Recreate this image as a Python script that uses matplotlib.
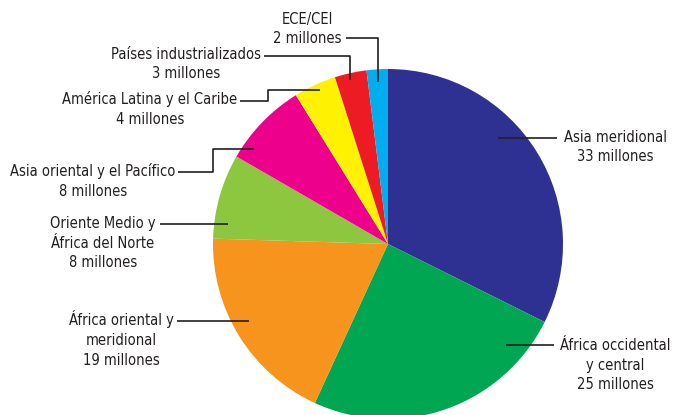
import matplotlib
matplotlib.use("Agg")
import matplotlib.pyplot as plt
from matplotlib import font_manager

# datos: niños (millones) por región
regiones = ["Asia meridional", "África occidental\ny central", "África oriental y\nmeridional",
            "Oriente Medio y\nÁfrica del Norte", "Asia oriental y el Pacífico",
            "América Latina y el Caribe", "Países industrializados", "ECE/CEI"]
valores = [33, 25, 19, 8, 8, 4, 3, 2]
colores = ["#2E3192", "#00A651", "#F7941D", "#8DC63F", "#EC008C", "#FFF200", "#ED1C24", "#00AEEF"]

W, H = 673, 415
centro = (388, H - 244)
radio = 175

# posicion del texto (pixeles) y trazo de la linea guia (pixeles, desde el texto hacia la tarta)
etiquetas = [
    ((615, 147), [(557, 138), (498, 138)]),
    ((615, 365), [(554, 345), (506, 345)]),
    ((121, 339), [(177, 321), (249, 321)]),
    ((103, 243), [(160, 224), (228, 224)]),
    ((93, 181), [(178, 172), (213, 172), (213, 149), (254, 149)]),
    ((150, 109), [(240, 101), (268, 101), (268, 90), (320, 90)]),
    ((186, 64), [(264, 56), (350, 56), (350, 80)]),
    ((307, 29), [(346, 38), (378, 38), (378, 82)]),
]

# buscar una fuente estrecha instalada
prop = None
for f in font_manager.fontManager.ttflist:
    nombre = f.fname.lower()
    if ("narrow" in nombre or "sanscondensed." in nombre) and "bold" not in nombre \
            and "italic" not in nombre and "oblique" not in nombre:
        prop = font_manager.FontProperties(fname=f.fname, size=10.5)
        break
if prop is None:
    prop = font_manager.FontProperties(family="DejaVu Sans", stretch="condensed", size=9.5)

fig = plt.figure(figsize=(W / 100, H / 100), dpi=100)
ax = fig.add_axes([0, 0, 1, 1])

ax.pie(valores, colors=colores, startangle=90, counterclock=False,
       center=centro, radius=radio, wedgeprops=dict(linewidth=0))

for reg, val, (pos, guia) in zip(regiones, valores, etiquetas):
    texto = f"{reg}\n{val} millones"
    ax.text(pos[0], H - pos[1], texto, ha="center", va="center", fontproperties=prop,
            color="#231F20", linespacing=1.38)
    xs = [p[0] for p in guia]
    ys = [H - p[1] for p in guia]
    ax.plot(xs, ys, color="#231F20", lw=1.2, solid_capstyle="butt")

ax.set_xlim(0, W)
ax.set_ylim(0, H)
ax.set_aspect("equal")
ax.axis("off")

fig.savefig("out.png", dpi=100)
